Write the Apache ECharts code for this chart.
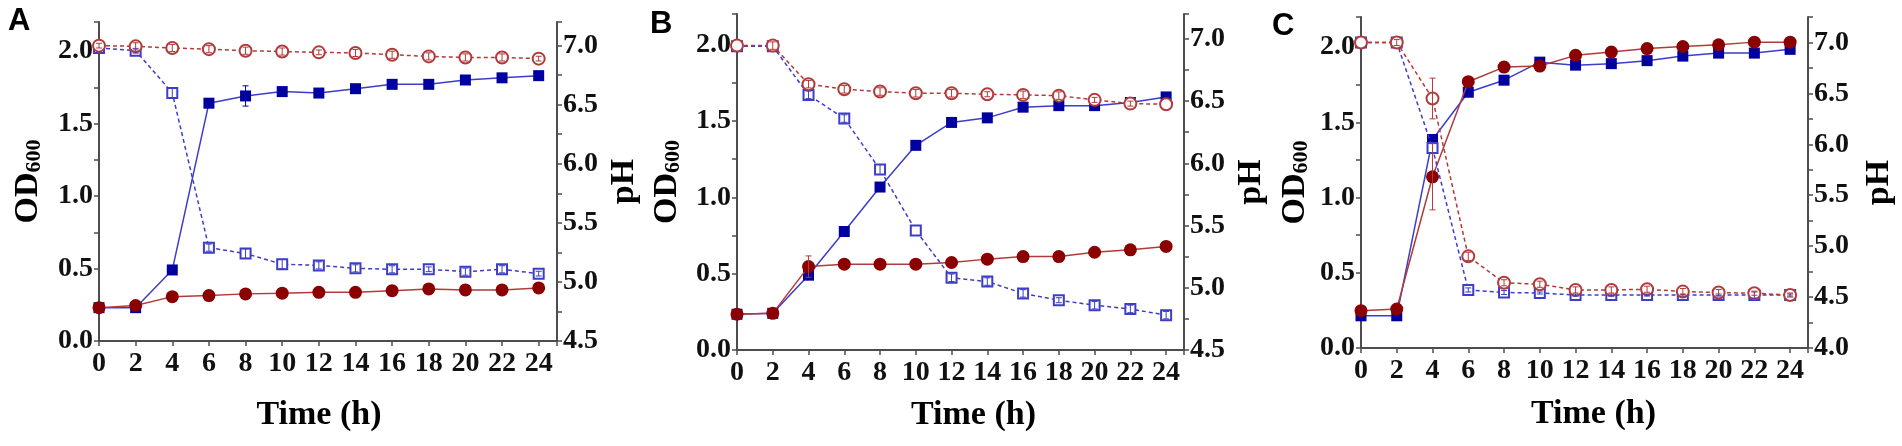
<!DOCTYPE html>
<html>
<head>
<meta charset="utf-8">
<script src="https://cdn.jsdelivr.net/npm/echarts@6/dist/echarts.min.js"></script>
<style>
    html, body { margin: 0; padding: 0; background: #fff; }
    #chart { width: 1902px; height: 446px; }
</style>
</head>
<body>
<div id="chart"></div>
<script>
// sampling times (h)
const hours = [0, 2, 4, 6, 8, 10, 12, 14, 16, 18, 20, 22, 24];

// panel A
const odBlueA = [0.23, 0.23, 0.49, 1.64, 1.69, 1.72, 1.71, 1.74, 1.77, 1.77, 1.80, 1.815, 1.83];
const odRedA  = [0.23, 0.245, 0.306, 0.313, 0.325, 0.33, 0.336, 0.336, 0.347, 0.359, 0.352, 0.352, 0.366];
const phBlueA = [6.98, 6.957, 6.60, 5.29, 5.24, 5.15, 5.14, 5.115, 5.107, 5.107, 5.087, 5.107, 5.07];
const phRedA  = [7.0, 6.994, 6.98, 6.97, 6.957, 6.95, 6.943, 6.938, 6.923, 6.909, 6.90, 6.90, 6.89];
const errOdBlueA = [0, 0, 0.01, 0.02, 0.07, 0.03, 0.02, 0.02, 0.02, 0.02, 0.03, 0.02, 0.02];
const errOdRedA  = [0, 0, 0, 0, 0, 0, 0, 0, 0, 0, 0, 0, 0];
const errPhBlueA = [0, 0.02, 0.04, 0.03, 0.04, 0.04, 0.03, 0.03, 0.03, 0.02, 0.03, 0.03, 0.02];
const errPhRedA  = [0.02, 0.03, 0.03, 0.03, 0.03, 0.03, 0.02, 0.03, 0.03, 0.03, 0.03, 0.03, 0.02];

// panel B
const odBlueB = [0.234, 0.24, 0.49, 0.776, 1.067, 1.34, 1.49, 1.52, 1.59, 1.60, 1.60, 1.62, 1.657];
const odRedB  = [0.234, 0.24, 0.546, 0.562, 0.562, 0.562, 0.573, 0.595, 0.612, 0.612, 0.64, 0.656, 0.678];
const phBlueB = [6.94, 6.94, 6.55, 6.36, 5.95, 5.46, 5.08, 5.05, 4.955, 4.90, 4.86, 4.83, 4.78];
const phRedB  = [6.946, 6.946, 6.636, 6.595, 6.577, 6.563, 6.563, 6.555, 6.55, 6.544, 6.51, 6.48, 6.475];
const errOdBlueB = [0, 0, 0, 0, 0, 0, 0, 0, 0, 0, 0, 0, 0];
const errOdRedB  = [0, 0, 0.07, 0, 0, 0, 0, 0, 0, 0, 0, 0, 0];
const errPhBlueB = [0, 0, 0.03, 0.03, 0.04, 0, 0.03, 0.03, 0.03, 0.02, 0.03, 0.03, 0.03];
const errPhRedB  = [0, 0.03, 0.03, 0.03, 0.03, 0.03, 0.03, 0.02, 0.03, 0.03, 0.02, 0.02, 0];

// panel C
const odBlueC = [0.214, 0.214, 1.386, 1.70, 1.78, 1.90, 1.88, 1.89, 1.91, 1.94, 1.96, 1.96, 1.985];
const odRedC  = [0.248, 0.259, 1.138, 1.77, 1.867, 1.874, 1.945, 1.967, 1.99, 2.004, 2.015, 2.033, 2.033];
const phBlueC = [7.0, 7.0, 5.963, 4.57, 4.545, 4.54, 4.52, 4.52, 4.52, 4.52, 4.52, 4.52, 4.52];
const phRedC  = [7.0, 7.0, 6.45, 4.90, 4.64, 4.626, 4.57, 4.57, 4.577, 4.554, 4.545, 4.538, 4.52];
const errOdBlueC = [0, 0, 0, 0, 0, 0, 0, 0, 0, 0, 0, 0, 0];
const errOdRedC  = [0, 0, 0.22, 0, 0, 0, 0, 0, 0, 0, 0, 0, 0];
const errPhBlueC = [0, 0, 0, 0.02, 0.02, 0.01, 0.01, 0.01, 0.01, 0.01, 0.01, 0.03, 0.01];
const errPhRedC  = [0, 0.03, 0.2, 0.04, 0.03, 0.03, 0.03, 0.03, 0.03, 0.03, 0.03, 0.02, 0.02];

const panelLetters = ['A', 'B', 'C'];
const xName = 'Time (h)';
const odName = '{a|OD}{b|600}';
const phName = 'pH';

const panels = [
    { od: [odBlueA, odRedA], ph: [phBlueA, phRedA], err: [errOdBlueA, errOdRedA, errPhBlueA, errPhRedA],
      grid: { left: 99, top: 22, width: 458, height: 319 }, phMin: 4.5, phMax: 7.2,
      xGap: 57, xPad: [0, 18, 0, 0], odGap: 54, phGap: 50, letter: [8, 6] },
    { od: [odBlueB, odRedB], ph: [phBlueB, phRedB], err: [errOdBlueB, errOdRedB, errPhBlueB, errPhRedB],
      grid: { left: 737, top: 14, width: 447, height: 336 }, phMin: 4.5, phMax: 7.2,
      xGap: 48, xPad: [0, 0, 0, 26], odGap: 53, phGap: 50, letter: [650, 9] },
    { od: [odBlueC, odRedC], ph: [phBlueC, phRedC], err: [errOdBlueC, errOdRedC, errPhBlueC, errPhRedC],
      grid: { left: 1361, top: 17, width: 447, height: 331 }, phMin: 4.0, phMax: 7.25,
      xGap: 49, xPad: [0, 0, 0, 18], odGap: 49, phGap: 54, letter: [1272, 11] }
];

const serif = '"Liberation Serif", "Times New Roman", serif';
const axisColor = '#4d4d4d';
const blueLine = '#3d3dc8', blueMark = '#0000a0';
const redLine = '#b23a3a', redMark = '#8b0000';

function pairs(vals) {
    return hours.map((h, i) => [h, vals[i]]);
}
function errPairs(vals, errs) {
    let out = [];
    for (let i = 0; i < hours.length; i++) {
        if (errs[i] > 0) out.push([hours[i], vals[i] - errs[i], vals[i] + errs[i]]);
    }
    return out;
}
function halfFmt(v) {
    return Math.abs(v * 2 - Math.round(v * 2)) < 1e-6 ? v.toFixed(1) : '';
}
function errorBar(params, api) {
    let x = api.value(0);
    let lo = api.coord([x, api.value(1)]);
    let hi = api.coord([x, api.value(2)]);
    let c = api.visual('color');
    let w = 3;
    let st = { stroke: c, lineWidth: 1 };
    return {
        type: 'group',
        children: [
            { type: 'line', shape: { x1: lo[0], y1: lo[1], x2: hi[0], y2: hi[1] }, style: st },
            { type: 'line', shape: { x1: lo[0] - w, y1: lo[1], x2: lo[0] + w, y2: lo[1] }, style: st },
            { type: 'line', shape: { x1: hi[0] - w, y1: hi[1], x2: hi[0] + w, y2: hi[1] }, style: st }
        ]
    };
}

const axisLine = { show: true, lineStyle: { color: axisColor, width: 2 } };
const axisTick = { show: true, length: 5, lineStyle: { color: axisColor, width: 1.5 } };
const labelStyle = { fontFamily: serif, fontWeight: 'bold', fontSize: 28, color: '#111' };
const titleStyle = { fontFamily: serif, fontWeight: 'bold', fontSize: 34, color: '#000' };

let option = {
    animation: false,
    backgroundColor: '#fff',
    grid: [],
    xAxis: [],
    yAxis: [],
    series: [],
    graphic: []
};

panels.forEach((p, i) => {
    option.grid.push(Object.assign({ containLabel: false }, p.grid));

    option.xAxis.push({
        gridIndex: i,
        type: 'value',
        min: 0,
        max: 25,
        interval: 2,
        axisLine: axisLine,
        axisTick: axisTick,
        splitLine: { show: false },
        axisLabel: Object.assign({
            margin: 9,
            formatter: v => (v % 2 === 0 && v <= 24 ? String(v) : '')
        }, labelStyle),
        name: xName,
        nameLocation: 'middle',
        nameGap: p.xGap,
        nameTextStyle: Object.assign({ padding: p.xPad }, titleStyle)
    });

    option.yAxis.push({
        gridIndex: i,
        type: 'value',
        position: 'left',
        min: 0,
        max: 2.2,
        interval: 0.25,
        axisLine: axisLine,
        axisTick: axisTick,
        splitLine: { show: false },
        axisLabel: Object.assign({ margin: 6, formatter: halfFmt }, labelStyle),
        name: odName,
        nameLocation: 'middle',
        nameRotate: 90,
        nameGap: p.odGap,
        nameTextStyle: {
            rich: {
                a: Object.assign({ lineHeight: 34, padding: [0, 0, 2, 0], verticalAlign: 'top' }, titleStyle),
                b: Object.assign({}, titleStyle, { fontSize: 22, lineHeight: 22, verticalAlign: 'bottom' })
            }
        }
    });

    option.yAxis.push({
        gridIndex: i,
        type: 'value',
        position: 'right',
        min: p.phMin,
        max: p.phMax,
        interval: 0.25,
        axisLine: axisLine,
        axisTick: axisTick,
        splitLine: { show: false },
        axisLabel: Object.assign({ margin: 6, formatter: halfFmt }, labelStyle),
        name: phName,
        nameLocation: 'middle',
        nameRotate: 90,
        nameGap: p.phGap,
        nameTextStyle: titleStyle
    });

    let yOd = i * 2, yPh = i * 2 + 1;

    option.series.push(
        {
            name: 'OD blue ' + panelLetters[i], type: 'line', xAxisIndex: i, yAxisIndex: yOd,
            data: pairs(p.od[0]), symbol: 'rect', symbolSize: 11, z: 3,
            itemStyle: { color: blueMark, borderWidth: 0 },
            lineStyle: { color: blueLine, width: 1.5 }
        },
        {
            name: 'OD red ' + panelLetters[i], type: 'line', xAxisIndex: i, yAxisIndex: yOd,
            data: pairs(p.od[1]), symbol: 'circle', symbolSize: 13, z: 4,
            itemStyle: { color: redMark, borderWidth: 0 },
            lineStyle: { color: redLine, width: 1.5 }
        },
        {
            name: 'pH blue ' + panelLetters[i], type: 'line', xAxisIndex: i, yAxisIndex: yPh,
            data: pairs(p.ph[0]), symbol: 'emptyRect', symbolSize: 10, z: 5,
            itemStyle: { color: blueLine, borderWidth: 1.3 },
            lineStyle: { color: blueLine, width: 1.5, type: [4, 3] }
        },
        {
            name: 'pH red ' + panelLetters[i], type: 'line', xAxisIndex: i, yAxisIndex: yPh,
            data: pairs(p.ph[1]), symbol: 'emptyCircle', symbolSize: 12, z: 6,
            itemStyle: { color: redLine, borderWidth: 1.3 },
            lineStyle: { color: redLine, width: 1.5, type: [4, 3] }
        }
    );

    // error bars
    const errSets = [
        [p.od[0], p.err[0], yOd, blueMark],
        [p.od[1], p.err[1], yOd, redLine],
        [p.ph[0], p.err[2], yPh, blueLine],
        [p.ph[1], p.err[3], yPh, redLine]
    ];
    errSets.forEach(e => {
        option.series.push({
            type: 'custom', xAxisIndex: i, yAxisIndex: e[2], silent: true, z: 7,
            renderItem: errorBar,
            itemStyle: { color: e[3] },
            encode: { x: 0, y: [1, 2] },
            data: errPairs(e[0], e[1])
        });
    });

    option.graphic.push({
        type: 'text',
        left: p.letter[0],
        top: p.letter[1],
        style: { text: panelLetters[i], font: 'bold 31px "Liberation Sans", Arial, sans-serif', fill: '#000' }
    });
});

let chart = echarts.init(document.getElementById('chart'));
chart.setOption(option);
window.addEventListener('resize', function () {
    chart.resize();
});
</script>
</body>
</html>
